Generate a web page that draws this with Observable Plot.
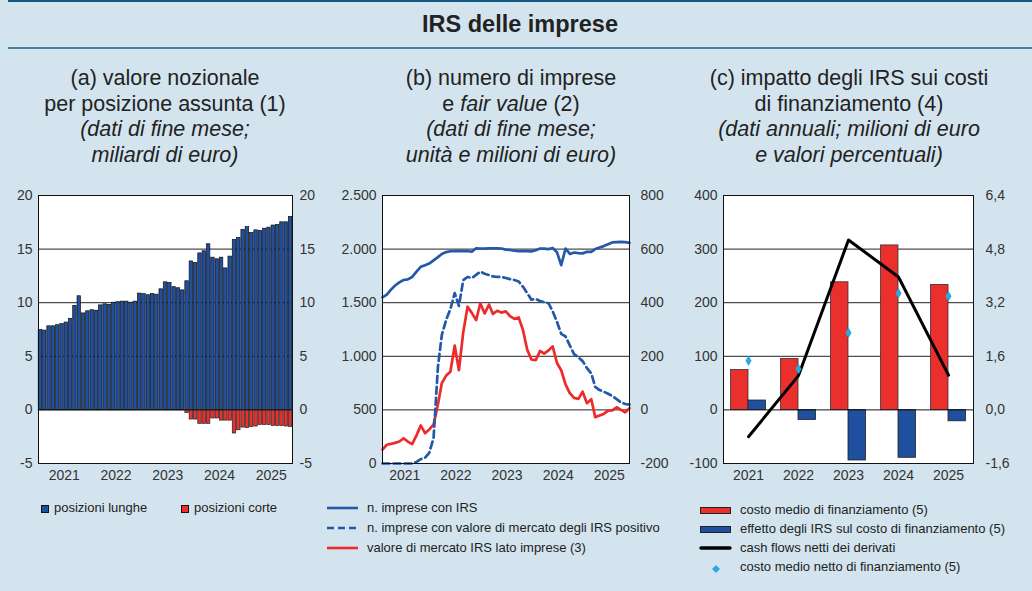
<!DOCTYPE html>
<html>
<head>
<meta charset="utf-8">
<script src="https://cdn.jsdelivr.net/npm/d3@7"></script>
<script src="https://cdn.jsdelivr.net/npm/@observablehq/plot@0.6"></script>
<style>
  html, body { margin:0; padding:0; }
  body { width:1032px; height:591px; background:#d3e4ee; position:relative; overflow:hidden;
         font-family:"Liberation Sans", Arial, sans-serif; color:#222; }
  .abs { position:absolute; }
  .topline { left:8px; top:0; width:1024px; height:2px; background:#0e5a80; }
  .midline { left:8px; top:47px; width:1024px; height:2px; background:#3f80a3; }
  .title { left:8px; width:1024px; top:11px; text-align:center; font-weight:bold; font-size:23.5px; }
  .sub { text-align:center; font-size:21.5px; line-height:25.7px; top:66px; width:360px; }
  .leg { font-size:13px; color:#222; white-space:nowrap; }
  .chart svg { overflow:visible; }
</style>
</head>
<body>
<div class="abs topline"></div>
<div class="abs title">IRS delle imprese</div>
<div class="abs midline"></div>

<div class="abs sub" style="left:-15px">(a) valore nozionale<br>per posizione assunta (1)<br><i>(dati di fine mese;<br>miliardi di euro)</i></div>
<div class="abs sub" style="left:331px">(b) numero di imprese<br>e <i>fair value</i> (2)<br><i>(dati di fine mese;<br>unità e milioni di euro)</i></div>
<div class="abs sub" style="left:669px">(c) impatto degli IRS sui costi<br>di finanziamento (4)<br><i>(dati annuali; milioni di euro<br>e valori percentuali)</i></div>

<div id="pa" class="abs chart" style="left:0px; top:185px"></div>
<div id="pb" class="abs chart" style="left:330px; top:185px"></div>
<div id="pc" class="abs chart" style="left:680px; top:185px"></div>

<div id="legends"></div>

<script>
// ---------- DATA ----------
// monthly, Jan 2021 – Nov 2025
const startMonth = "2021-01";
const longPositions = [7.45,7.4,7.8,7.8,7.9,8.0,8.15,8.5,9.7,10.6,
  9.0,9.2,9.3,9.25,9.75,9.85,9.8,10.0,10.05,10.1,
  10.1,10.0,10.1,10.85,10.8,10.7,10.8,10.75,11.25,11.9,
  11.85,11.45,11.35,11.15,12.0,13.85,13.7,14.6,14.8,15.45,
  14.2,14.05,14.2,13.2,14.3,15.85,16.05,16.8,17.05,16.5,
  16.75,16.7,16.9,17.0,17.2,17.25,17.5,17.5,18.0];
const shortPositions = [-0.05,-0.05,-0.05,-0.05,-0.05,-0.05,-0.05,-0.05,-0.05,-0.05,
  -0.05,-0.05,-0.05,-0.05,-0.05,-0.05,-0.05,-0.05,-0.05,-0.05,
  -0.05,-0.05,-0.05,-0.05,-0.05,-0.05,-0.05,-0.05,-0.05,-0.05,
  -0.05,-0.05,-0.05,-0.05,-0.3,-0.9,-0.9,-1.3,-1.3,-1.3,
  -0.8,-0.8,-1.0,-1.0,-1.0,-2.2,-1.9,-1.65,-1.7,-1.6,
  -1.55,-1.4,-1.4,-1.4,-1.5,-1.5,-1.5,-1.55,-1.6];
const firmsWithIRS = [1550,1575,1620,1660,1690,1712,1718,1740,1790,1835,
  1850,1865,1895,1925,1955,1972,1980,1982,1983,1982,
  1982,1975,2008,2005,2005,2008,2008,2008,2005,1995,
  1992,1985,1980,1982,1980,1978,1990,2005,2005,2000,
  2010,1970,1850,2005,1955,1968,1962,1960,1975,1975,
  2000,2015,2028,2045,2062,2065,2068,2065,2058];
const firmsPositiveIRS = [0,0,0,0,0,0,0,0,15,40,
  55,100,240,900,1200,1340,1440,1590,1470,1710,
  1740,1730,1760,1790,1770,1758,1745,1740,1740,1730,
  1720,1712,1698,1650,1590,1528,1535,1516,1505,1495,
  1420,1320,1210,1185,1100,1020,990,955,890,840,
  715,685,670,650,630,600,570,555,550];
const fairValueFirms = [-148,-130,-127,-123,-118,-106,-118,-128,-95,-58,
  -87,-73,-55,20,100,128,142,240,148,290,
  385,362,335,398,360,393,358,370,363,368,
  350,340,345,300,225,188,186,220,210,222,
  237,175,148,95,62,45,41,68,25,40,
  -27,-21,-15,-3,-2,10,0,-9,6];
// annual
const years = [2021,2022,2023,2024,2025];
const avgFundingCost = [1.19,1.52,3.81,4.91,3.73];      // %
const irsEffect = [0.28,-0.30,-1.51,-1.43,-0.34];       // %
const netFundingCost = [1.47,1.22,2.30,3.48,3.39];     // %
const netCashFlows = [-50,64,317,248,65];              // milioni di euro

// ---------- STYLE ----------
const FONT = "Liberation Sans, Arial, sans-serif";
const BLUE = "#1f4f9f", RED = "#ea2f2c", LBLUE = "#2458a8", LRED = "#ee2b2b", CYAN = "#2aa9e0";
const baseStyle = {background:"transparent", fontFamily:FONT, fontSize:"14px", color:"#333", overflow:"visible"};
const itFmt = d3.formatLocale({decimal:",", thousands:".", grouping:[3], currency:["","€"], minus:"-"});

// months
const [sy, sm] = startMonth.split("-").map(Number);
const monthDates = longPositions.map((_, i) => new Date(Date.UTC(sy, sm - 1 + i, 1)));
const monthKeys = monthDates.map(d3.utcFormat("%Y-%m"));

// ---------- PANEL A ----------
const dataA = monthKeys.map((k, i) => ({k, long: longPositions[i], short: shortPositions[i]}));
const pa = Plot.plot({
  width:330, height:303, marginLeft:38, marginRight:38, marginTop:10, marginBottom:25,
  style: baseStyle,
  x: {type:"band", domain: monthKeys, paddingInner:0.2, paddingOuter:0.05, round:false, axis:null},
  y: {domain:[-5,20], axis:null},
  marks: [
    Plot.frame({fill:"white", stroke:"none"}),
    Plot.ruleY([5,10,15], {stroke:"#222", strokeWidth:1}),
    Plot.barY(dataA, {x:"k", y:"long", fill:BLUE, stroke:"#111", strokeWidth:0.7}),
    Plot.barY(dataA, {x:"k", y:"short", fill:RED, stroke:"#222", strokeWidth:0.7}),
    Plot.ruleY([0], {stroke:"#111", strokeWidth:1}),
    Plot.axisY({anchor:"left", label:null, ticks:[-5,0,5,10,15,20], tickSize:0, tickPadding:6, tickFormat:d=>String(d)}),
    Plot.axisY({anchor:"right", label:null, ticks:[-5,0,5,10,15,20], tickSize:0, tickPadding:7, tickFormat:d=>String(d)}),
    Plot.axisX({label:null, ticks: monthKeys.filter(k => k.endsWith("-07")), tickSize:0, tickPadding:7, dx:-2,
                tickFormat: k => k.slice(0,4)}),
    Plot.frame({stroke:"#111", strokeWidth:1})
  ]
});
document.getElementById("pa").append(pa);

// ---------- PANEL B ----------
const dataB = monthDates.map((d, i) => ({d, n: firmsWithIRS[i], p: firmsPositiveIRS[i], fv: fairValueFirms[i]}));
const fvToLeft = v => v * 2.5 + 500;   // right axis (-200..800) on left axis (0..2500)
const pb = Plot.plot({
  width:345, height:303, marginLeft:52, marginRight:46, marginTop:10, marginBottom:25,
  style: baseStyle,
  x: {type:"utc", domain:[monthDates[0], monthDates[monthDates.length-1]], axis:null},
  y: {domain:[0,2500], axis:null},
  marks: [
    Plot.frame({fill:"white", stroke:"none"}),
    Plot.ruleY([500,1000,1500,2000], {stroke:"#222", strokeWidth:1}),
    Plot.lineY(dataB, {x:"d", y:d => fvToLeft(d.fv), stroke:LRED, strokeWidth:2.7}),
    Plot.lineY(dataB, {x:"d", y:"p", stroke:LBLUE, strokeWidth:2.7, strokeDasharray:"7,4"}),
    Plot.lineY(dataB, {x:"d", y:"n", stroke:LBLUE, strokeWidth:2.7}),
    Plot.axisY({anchor:"left", label:null, ticks:[0,500,1000,1500,2000,2500], tickSize:0, tickPadding:6, tickFormat:itFmt.format(",")}),
    Plot.axisY({anchor:"right", label:null, ticks:[0,500,1000,1500,2000,2500], tickSize:0, tickPadding:11,
                tickFormat:d => String(Math.round((d - 500) * 0.4))}),
    Plot.axisX({label:null, ticks: years.map(y => new Date(Date.UTC(y, 6, 1))), tickSize:0, tickPadding:7, dx:-3,
                tickFormat: d => String(d.getUTCFullYear())}),
    Plot.frame({stroke:"#111", strokeWidth:1})
  ]
});
document.getElementById("pb").append(pb);

// ---------- PANEL C ----------
const pctToLeft = v => v * 62.5;  // right axis (%) on left axis (milioni)
const dataC = years.map((y, i) => ({y, cost: avgFundingCost[i], eff: irsEffect[i], net: netFundingCost[i], cf: netCashFlows[i]}));
const pc = Plot.plot({
  width:352, height:303, marginLeft:43, marginRight:59, marginTop:10, marginBottom:25,
  style: baseStyle,
  x: {type:"linear", domain:[2020.5, 2025.5], axis:null},
  y: {domain:[-100,400], axis:null},
  marks: [
    Plot.frame({fill:"white", stroke:"none"}),
    Plot.ruleY([100,200,300], {stroke:"#222", strokeWidth:1}),
    Plot.rectY(dataC, {x1:d => d.y - 0.35, x2:d => d.y, y1:0, y2:d => pctToLeft(d.cost), fill:RED, stroke:"#333", strokeWidth:0.8}),
    Plot.rectY(dataC, {x1:d => d.y, x2:d => d.y + 0.35, y1:0, y2:d => pctToLeft(d.eff), fill:BLUE, stroke:"#222", strokeWidth:0.8}),
    Plot.ruleY([0], {stroke:"#111", strokeWidth:1}),
    Plot.lineY(dataC, {x:"y", y:"cf", stroke:"#000", strokeWidth:3}),
    Plot.dot(dataC, {x:"y", y:d => pctToLeft(d.net), symbol:"diamond", fill:CYAN, stroke:"none", r:3.2}),
    Plot.axisY({anchor:"left", label:null, ticks:[-100,0,100,200,300,400], tickSize:0, tickPadding:6, tickFormat:d=>String(d)}),
    Plot.axisY({anchor:"right", label:null, ticks:[-100,0,100,200,300,400], tickSize:0, tickPadding:12,
                tickFormat:d => (d * 0.016).toFixed(1).replace(".", ",")}),
    Plot.axisX({label:null, ticks: years, tickSize:0, tickPadding:7, tickFormat:d => String(d)}),
    Plot.frame({stroke:"#111", strokeWidth:1})
  ]
});
document.getElementById("pc").append(pc);

// ---------- LEGENDS ----------
const L = document.getElementById("legends");
function add(html){ L.insertAdjacentHTML("beforeend", html); }
function sq(x, y, color){ add(`<div class="abs" style="left:${x}px;top:${y}px;width:6px;height:6px;background:${color};border:1px solid #111"></div>`); }
function txt(x, y, t){ add(`<div class="abs leg" style="left:${x}px;top:${y - 8}px">${t}</div>`); }
// (a)
sq(41, 505, BLUE); txt(54, 508, "posizioni lunghe");
sq(181, 505, RED); txt(194, 508, "posizioni corte");
// (b)
function lineSw(x, y, color, dash){
  add(`<svg class="abs" style="left:${x}px;top:${y-3}px" width="32" height="6"><line x1="0" x2="31" y1="3" y2="3" stroke="${color}" stroke-width="2.6" ${dash ? 'stroke-dasharray="7,4"' : ''}/></svg>`);
}
lineSw(327, 508, LBLUE, false); txt(367, 508, "n. imprese con IRS");
lineSw(327, 528, LBLUE, true);  txt(367, 528, "n. imprese con valore di mercato degli IRS positivo");
lineSw(327, 548, LRED, false);  txt(367, 548, "valore di mercato IRS lato imprese (3)");
// (c)
add(`<div class="abs" style="left:700px;top:507px;width:29px;height:5px;background:${RED};border:1px solid #222"></div>`);
txt(740, 510, "costo medio di finanziamento (5)");
add(`<div class="abs" style="left:700px;top:526px;width:29px;height:5px;background:${BLUE};border:1px solid #222"></div>`);
txt(740, 529, "effetto degli IRS sul costo di finanziamento (5)");
add(`<svg class="abs" style="left:699px;top:545px" width="34" height="6"><line x1="2" x2="31" y1="3" y2="3" stroke="#000" stroke-width="3.4" stroke-linecap="round"/></svg>`);
txt(740, 548, "cash flows netti dei derivati");
add(`<svg class="abs" style="left:711px;top:564px" width="10" height="10"><path d="M5,1 L9,5 L5,9 L1,5 Z" fill="${CYAN}"/></svg>`);
txt(740, 567, "costo medio netto di finanziamento (5)");
</script>
</body>
</html>
